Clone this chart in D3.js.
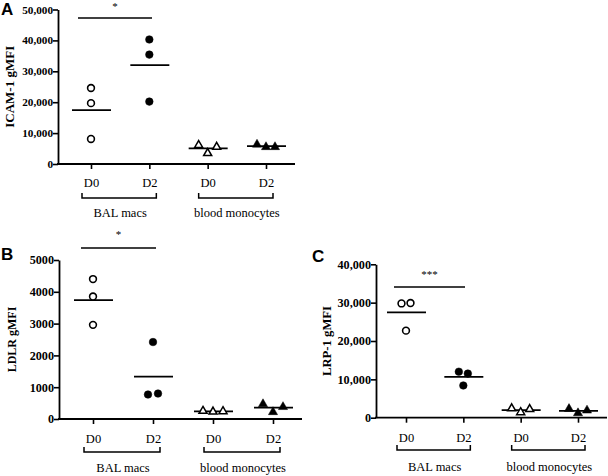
<!DOCTYPE html>
<html>
<head>
<meta charset="utf-8">
<script src="https://cdn.jsdelivr.net/npm/d3@7"></script>
<style>
  body { margin: 0; background: #fff; }
  svg { display: block; }
</style>
</head>
<body>
<svg id="chart" width="608" height="476"></svg>
<script>
// ---- data ----
const categories = ["D0", "D2", "D0", "D2"];
const groups = ["BAL macs", "blood monocytes"];

// ICAM-1 gMFI (panel A): BAL D0, BAL D2, blood D0, blood D2
const icamBalD0 = [24600, 19700, 8100];
const icamBalD2 = [40300, 35400, 20200];
const icamBloodD0 = [6100, 3500, 5500];
const icamBloodD2 = [6300, 5500, 5500];
const icamTicks = [0, 10000, 20000, 30000, 40000, 50000];

// LDLR gMFI (panel B)
const ldlrBalD0 = [4400, 3850, 2960];
const ldlrBalD2 = [2420, 770, 800];
const ldlrBloodD0 = [250, 230, 240];
const ldlrBloodD2 = [470, 220, 380];
const ldlrTicks = [0, 1000, 2000, 3000, 4000, 5000];

// LRP-1 gMFI (panel C)
const lrpBalD0 = [29800, 29900, 22700];
const lrpBalD2 = [12000, 11500, 8400];
const lrpBloodD0 = [2400, 1400, 2200];
const lrpBloodD2 = [2300, 1200, 1900];
const lrpTicks = [0, 10000, 20000, 30000, 40000];

const panels = [
  { letter: "A", title: "ICAM-1 gMFI", series: [icamBalD0, icamBalD2, icamBloodD0, icamBloodD2],
    ticks: icamTicks, max: 50000, fmt: d3.format(","), sig: "*", tickFont: 11.2, titleFont: 13,
    ax: 58, x0: 91, x1: 266, xend: 295, y0: 164, y1: 9.5, sigY: 18, letterX: 1, letterY: 15,
    titleX: 9, spread: 9, catY: 187, brY: 198, grpY: 217, sigFrom: 78, sigTo: 152, starY: 10 },
  { letter: "B", title: "LDLR gMFI", series: [ldlrBalD0, ldlrBalD2, ldlrBloodD0, ldlrBloodD2],
    ticks: ldlrTicks, max: 5000, fmt: d3.format("d"), sig: "*", tickFont: 12.2, titleFont: 12,
    ax: 59, x0: 93, x1: 273, xend: 302, y0: 419, y1: 260, sigY: 248, letterX: 1, letterY: 260,
    titleX: 12, spread: 10, catY: 443, brY: 452, grpY: 472, sigFrom: 81, sigTo: 156, starY: 238 },
  { letter: "C", title: "LRP-1 gMFI", series: [lrpBalD0, lrpBalD2, lrpBloodD0, lrpBloodD2],
    ticks: lrpTicks, max: 40000, fmt: d3.format(","), sig: "***", tickFont: 12.2, titleFont: 12.7,
    ax: 376, x0: 406, x1: 578, xend: 607, y0: 417.7, y1: 264.3, sigY: 287, letterX: 312, letterY: 262,
    titleX: 327, spread: 9, catY: 442, brY: 450, grpY: 471, sigFrom: 394, sigTo: 465, starY: 278 }
];

const svg = d3.select("#chart");
const serif = "'Liberation Serif', 'Times New Roman', serif";

panels.forEach(p => {
  const g = svg.append("g");
  const x = d3.scalePoint().domain(d3.range(categories.length)).range([p.x0, p.x1]);
  const y = d3.scaleLinear().domain([0, p.max]).range([p.y0, p.y1]);

  // y axis
  const yAxis = d3.axisLeft(y).tickValues(p.ticks).tickFormat(p.fmt).tickSize(5).tickSizeOuter(0);
  const yg = g.append("g").attr("transform", `translate(${p.ax},0)`).call(yAxis);
  yg.select(".domain").attr("stroke-width", 1.8);
  yg.selectAll(".tick line").attr("stroke-width", 1.6);
  yg.selectAll("text").attr("font-family", serif).attr("font-weight", "bold")
    .attr("font-size", p.tickFont).attr("fill", "#000").attr("x", -5);

  // x axis
  const xAxis = d3.axisBottom(x).tickFormat(i => categories[i]).tickSize(5).tickSizeOuter(0);
  const xg = g.append("g").attr("transform", `translate(0,${p.y0})`).call(xAxis);
  xg.select(".domain").remove();
  xg.selectAll(".tick line").attr("stroke-width", 1.6);
  xg.selectAll("text").attr("font-family", serif).attr("font-size", 12.5).attr("fill", "#000")
    .attr("y", 0).attr("dy", p.catY - p.y0);
  g.append("line").attr("x1", p.ax - 1).attr("x2", p.xend).attr("y1", p.y0).attr("y2", p.y0)
    .attr("stroke", "#000").attr("stroke-width", 1.8);

  // group brackets
  groups.forEach((name, gi) => {
    const a = x(gi * 2) - 9, b = x(gi * 2 + 1) + 7;
    g.append("path").attr("d", `M${a},${p.brY - 5}V${p.brY}H${b}V${p.brY - 5}`)
      .attr("fill", "none").attr("stroke", "#000").attr("stroke-width", 1.5);
    g.append("text").attr("x", (a + b) / 2 + 1).attr("y", p.grpY).attr("text-anchor", "middle")
      .attr("font-family", serif).attr("font-size", 12.5).text(name);
  });

  // y title
  g.append("text").attr("transform", `translate(${p.titleX},${(p.y0 + p.y1) / 2}) rotate(-90)`)
    .attr("text-anchor", "middle").attr("dy", "0.35em").attr("font-family", serif)
    .attr("font-weight", "bold").attr("font-size", p.titleFont).text(p.title);

  // panel letter
  g.append("text").attr("x", p.letterX).attr("y", p.letterY)
    .attr("font-family", "'Liberation Sans', Arial, sans-serif").attr("font-weight", "bold")
    .attr("font-size", 17).text(p.letter);

  // points
  p.series.forEach((vals, ci) => {
    const cx = x(ci);
    // mean line
    const m = d3.mean(vals);
    g.append("line").attr("x1", cx - 19).attr("x2", cx + 20).attr("y1", y(m)).attr("y2", y(m))
      .attr("stroke", "#000").attr("stroke-width", 1.8);
    // cluster points whose pixel positions overlap, spread them horizontally
    const ys = vals.map(v => y(v));
    const offsets = new Array(vals.length).fill(0);
    const used = new Array(vals.length).fill(false);
    for (let i = 0; i < vals.length; i++) {
      if (used[i]) continue;
      const cluster = [i]; used[i] = true;
      let changed = true;
      while (changed) {
        changed = false;
        for (let j = 0; j < vals.length; j++) {
          if (!used[j] && cluster.some(k => Math.abs(ys[k] - ys[j]) < 8)) {
            cluster.push(j); used[j] = true; changed = true;
          }
        }
      }
      cluster.sort((a, b) => a - b);
      cluster.forEach((k, n) => { offsets[k] = (n - (cluster.length - 1) / 2) * p.spread; });
    }
    const filled = ci % 2 === 1;
    const isTri = ci >= 2;
    vals.forEach((v, i) => {
      const px = cx + offsets[i], py = ys[i];
      if (isTri) {
        g.append("path").attr("d", d3.symbol(d3.symbolTriangle, filled ? 36 : 28)())
          .attr("transform", `translate(${px},${py})`)
          .attr("fill", filled ? "#000" : "#fff").attr("stroke", "#000").attr("stroke-width", filled ? 0.5 : 1.5);
      } else {
        g.append("circle").attr("cx", px).attr("cy", py).attr("r", filled ? 3.8 : 3.4)
          .attr("fill", filled ? "#000" : "#fff").attr("stroke", "#000").attr("stroke-width", filled ? 0.5 : 1.6);
      }
    });
  });

  // significance bar
  g.append("line").attr("x1", p.sigFrom).attr("x2", p.sigTo).attr("y1", p.sigY).attr("y2", p.sigY)
    .attr("stroke", "#000").attr("stroke-width", 1.6);
  g.append("text").attr("x", (p.sigFrom + p.sigTo) / 2).attr("y", p.starY).attr("text-anchor", "middle")
    .attr("font-family", serif).attr("font-size", 11).attr("fill", "#000").text(p.sig);
});
</script>
</body>
</html>
